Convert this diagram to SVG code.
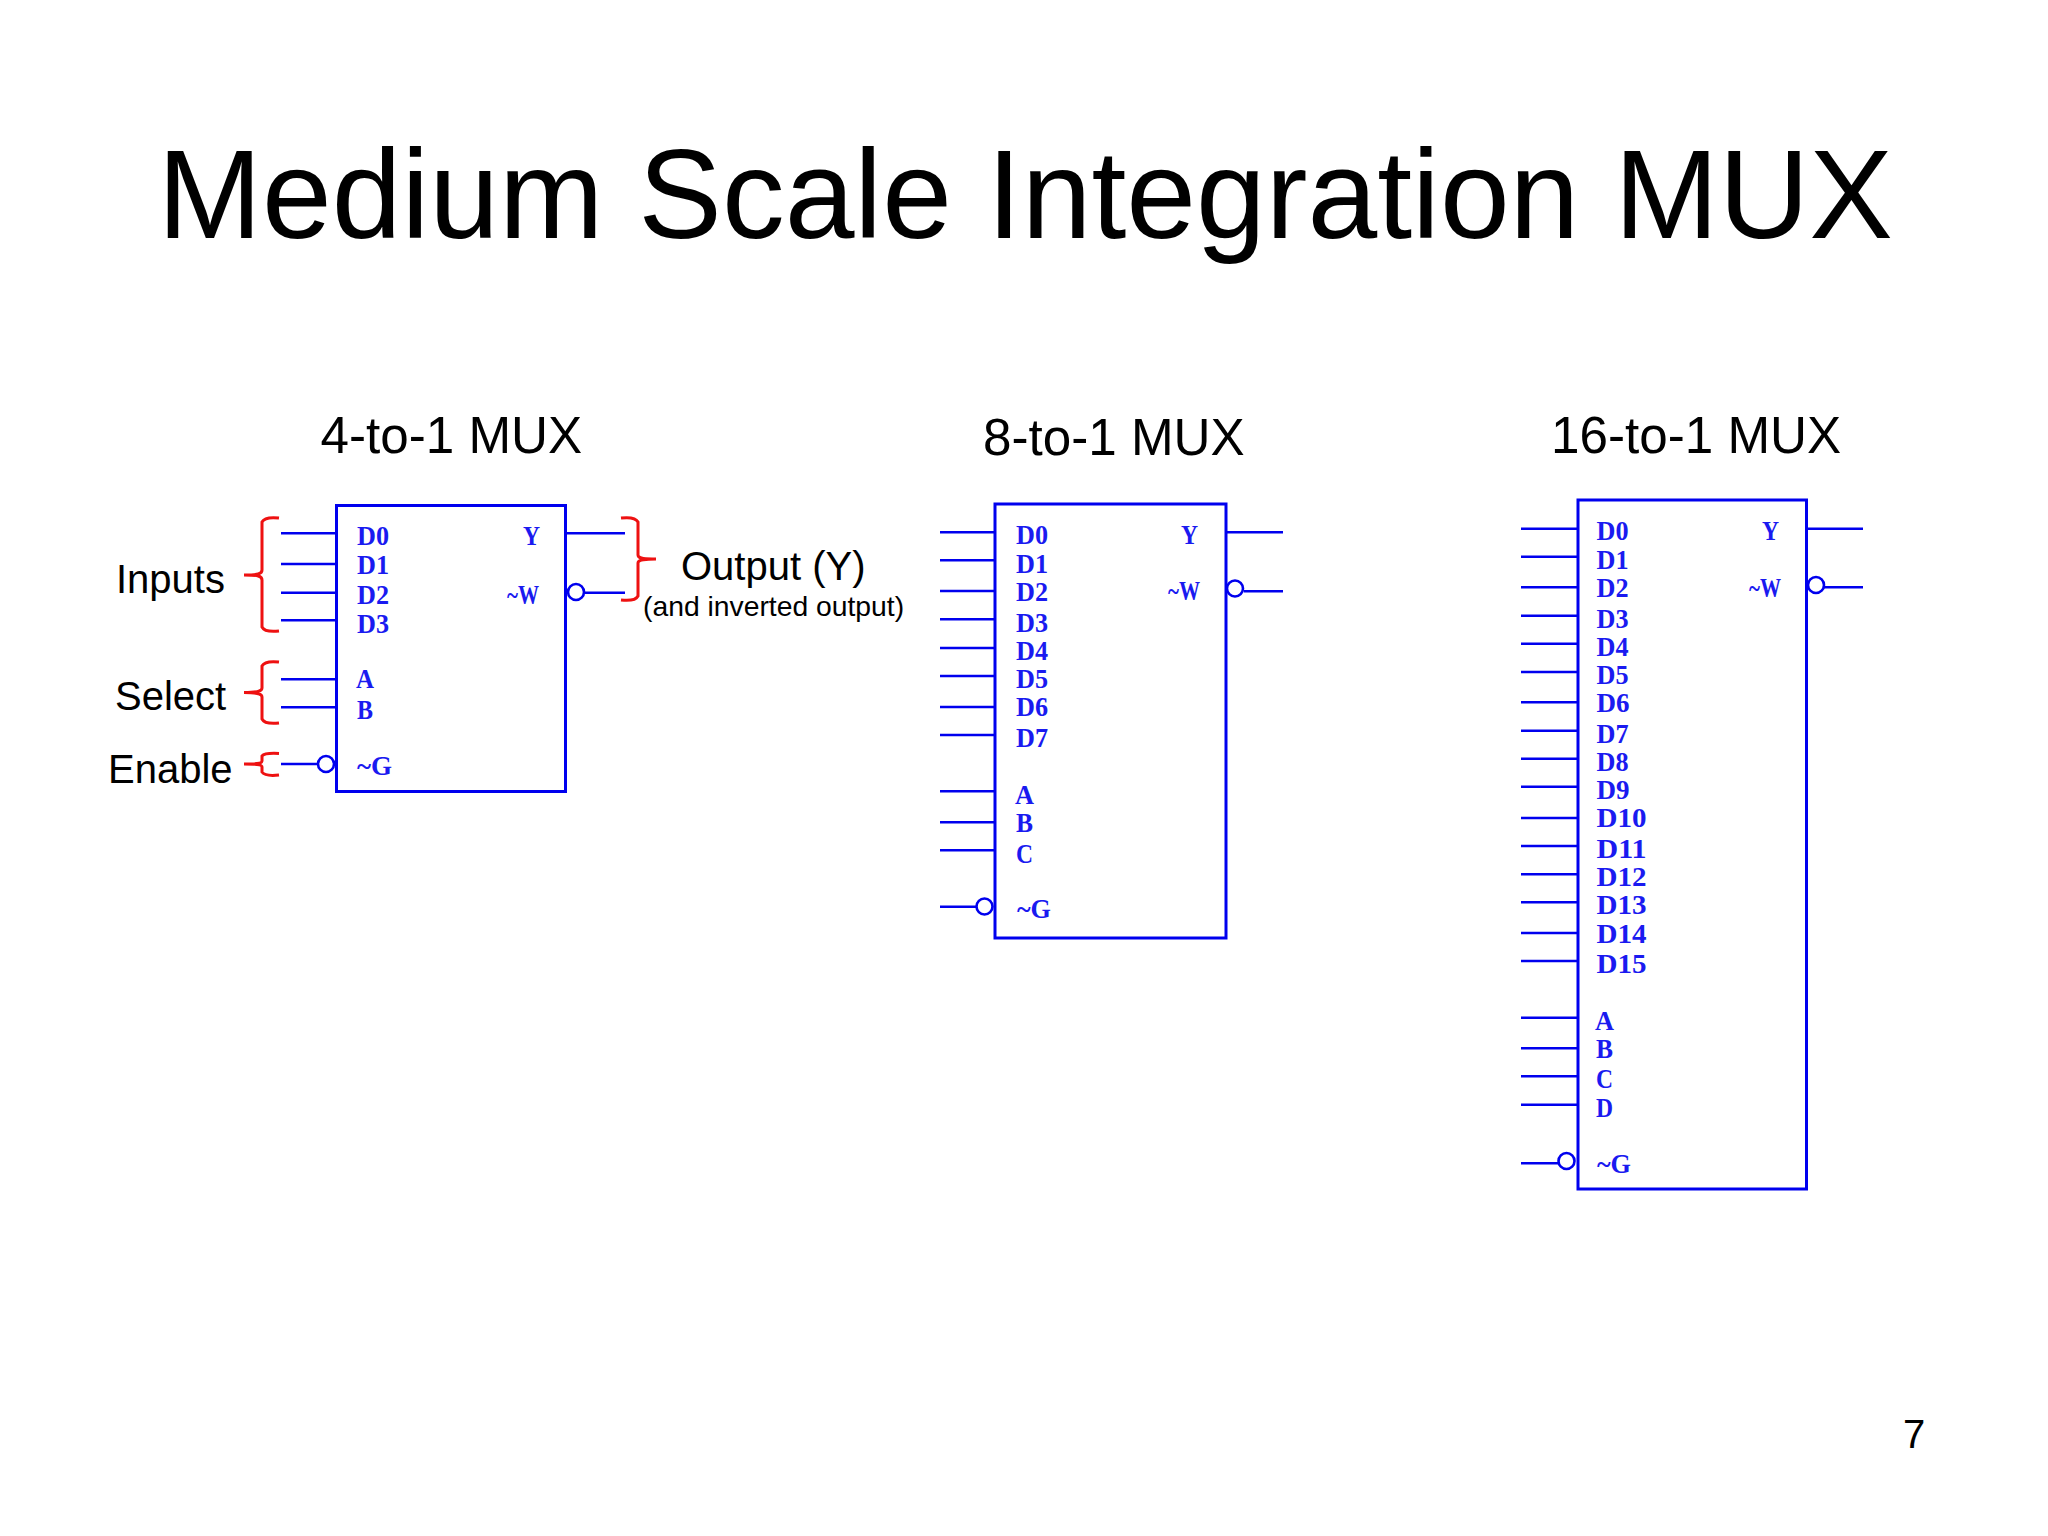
<svg xmlns="http://www.w3.org/2000/svg" width="2048" height="1536" viewBox="0 0 2048 1536">
<style>
text{font-family:"Liberation Sans",Arial,sans-serif;fill:#000}
.p{font-family:"Liberation Serif","Times New Roman",serif;font-size:27px;font-weight:bold;fill:#1a1af0;stroke:none;transform:translateY(1px)}
.b{fill:#fff;stroke:#0000ee;stroke-width:3}
.w{stroke:#0000ee;stroke-width:2.6;fill:none}
.c{fill:#fff;stroke:#0000ee;stroke-width:2.6}
.r{stroke:#ee1111;stroke-width:3;fill:none}
.t{font-size:51.2px}
.l{font-size:40px}
</style>
<rect width="2048" height="1536" fill="#fff"/>
<text id="title" x="157.500" y="238" font-size="125.400">Medium Scale Integration MUX</text>
<text class="t" x="320.500" y="453">4-to-1 MUX</text>
<text class="t" x="983" y="455">8-to-1 MUX</text>
<text class="t" x="1551" y="453">16-to-1 MUX</text>
<text id="page" x="1903" y="1447.500" font-size="40">7</text>
<g id="connectors">
<path class="w" d="M281 533.300H336M281 564H336M281 592.700H336M281 620.300H336M281 679.300H336M281 707.300H336M281 764H318M565 533.300H625M584 592.700H625"/>
<path class="w" d="M940 532.300H995M940 560.300H995M940 591H995M940 619.300H995M940 648H995M940 676H995M940 707H995M940 735H995M940 791.300H995M940 822.300H995M940 850.300H995M940 906.700H976M1226 532.300H1283M1244 591.300H1283"/>
<path class="w" d="M1521 528.700H1578M1521 556.700H1578M1521 587.300H1578M1521 615.700H1578M1521 643.700H1578M1521 672H1578M1521 702.300H1578M1521 730.700H1578M1521 758.700H1578M1521 786.700H1578M1521 818H1578M1521 846H1578M1521 874.300H1578M1521 902.300H1578M1521 933H1578M1521 961H1578M1521 1017.700H1578M1521 1048.300H1578M1521 1076.300H1578M1521 1104.700H1578M1521 1163.300H1558M1806 528.700H1863M1824 587.300H1863"/>
</g>
<g id="mux4">
<rect class="b" x="336.500" y="505.500" width="229" height="286"/>
<circle class="c" cx="326" cy="764" r="8"/><circle class="c" cx="576" cy="592" r="8"/>
<text class="p" x="357" y="544" textLength="32" lengthAdjust="spacingAndGlyphs">D0</text><text class="p" x="357" y="573" textLength="32" lengthAdjust="spacingAndGlyphs">D1</text><text class="p" x="357" y="603" textLength="32" lengthAdjust="spacingAndGlyphs">D2</text><text class="p" x="357" y="632" textLength="32" lengthAdjust="spacingAndGlyphs">D3</text><text class="p" x="356" y="687" textLength="18" lengthAdjust="spacingAndGlyphs">A</text><text class="p" x="357" y="718" textLength="16" lengthAdjust="spacingAndGlyphs">B</text><text class="p" x="357" y="774" textLength="35" lengthAdjust="spacingAndGlyphs">~G</text><text class="p" x="523" y="544" textLength="17" lengthAdjust="spacingAndGlyphs">Y</text><text class="p" x="507" y="603" textLength="32" lengthAdjust="spacingAndGlyphs">~W</text>
</g>
<g id="mux8">
<rect class="b" x="995" y="504" width="231" height="434"/>
<circle class="c" cx="984.500" cy="906.500" r="8"/><circle class="c" cx="1235" cy="588.500" r="8"/>
<text class="p" x="1016" y="543" textLength="32" lengthAdjust="spacingAndGlyphs">D0</text><text class="p" x="1016" y="572" textLength="32" lengthAdjust="spacingAndGlyphs">D1</text><text class="p" x="1016" y="600" textLength="32" lengthAdjust="spacingAndGlyphs">D2</text><text class="p" x="1016" y="631" textLength="32" lengthAdjust="spacingAndGlyphs">D3</text><text class="p" x="1016" y="659" textLength="32" lengthAdjust="spacingAndGlyphs">D4</text><text class="p" x="1016" y="687" textLength="32" lengthAdjust="spacingAndGlyphs">D5</text><text class="p" x="1016" y="715" textLength="32" lengthAdjust="spacingAndGlyphs">D6</text><text class="p" x="1016" y="746" textLength="32" lengthAdjust="spacingAndGlyphs">D7</text><text class="p" x="1015" y="803" textLength="19" lengthAdjust="spacingAndGlyphs">A</text><text class="p" x="1016" y="831" textLength="17" lengthAdjust="spacingAndGlyphs">B</text><text class="p" x="1016" y="862" textLength="17" lengthAdjust="spacingAndGlyphs">C</text><text class="p" x="1017" y="917" textLength="34" lengthAdjust="spacingAndGlyphs">~G</text><text class="p" x="1181" y="543" textLength="17" lengthAdjust="spacingAndGlyphs">Y</text><text class="p" x="1168" y="599" textLength="32" lengthAdjust="spacingAndGlyphs">~W</text>
</g>
<g id="mux16">
<rect class="b" x="1578" y="500" width="228.500" height="689"/>
<circle class="c" cx="1566.500" cy="1161" r="8"/><circle class="c" cx="1816" cy="585" r="8"/>
<text class="p" x="1596.500" y="539" textLength="32" lengthAdjust="spacingAndGlyphs">D0</text><text class="p" x="1596.500" y="568" textLength="32" lengthAdjust="spacingAndGlyphs">D1</text><text class="p" x="1596.500" y="596" textLength="32" lengthAdjust="spacingAndGlyphs">D2</text><text class="p" x="1596.500" y="627" textLength="32" lengthAdjust="spacingAndGlyphs">D3</text><text class="p" x="1596.500" y="655" textLength="32" lengthAdjust="spacingAndGlyphs">D4</text><text class="p" x="1596.500" y="683" textLength="32" lengthAdjust="spacingAndGlyphs">D5</text><text class="p" x="1596.500" y="711" textLength="33" lengthAdjust="spacingAndGlyphs">D6</text><text class="p" x="1596.500" y="742" textLength="32" lengthAdjust="spacingAndGlyphs">D7</text><text class="p" x="1596.500" y="770" textLength="32" lengthAdjust="spacingAndGlyphs">D8</text><text class="p" x="1596.500" y="798" textLength="33" lengthAdjust="spacingAndGlyphs">D9</text><text class="p" x="1596.500" y="826" textLength="50" lengthAdjust="spacingAndGlyphs">D10</text><text class="p" x="1596.500" y="857" textLength="50" lengthAdjust="spacingAndGlyphs">D11</text><text class="p" x="1596.500" y="885" textLength="50" lengthAdjust="spacingAndGlyphs">D12</text><text class="p" x="1596.500" y="913" textLength="50" lengthAdjust="spacingAndGlyphs">D13</text><text class="p" x="1596.500" y="942" textLength="50" lengthAdjust="spacingAndGlyphs">D14</text><text class="p" x="1596.500" y="972" textLength="50" lengthAdjust="spacingAndGlyphs">D15</text><text class="p" x="1595" y="1029" textLength="19" lengthAdjust="spacingAndGlyphs">A</text><text class="p" x="1596" y="1057" textLength="17" lengthAdjust="spacingAndGlyphs">B</text><text class="p" x="1596" y="1087" textLength="17" lengthAdjust="spacingAndGlyphs">C</text><text class="p" x="1596" y="1116" textLength="17" lengthAdjust="spacingAndGlyphs">D</text><text class="p" x="1597" y="1172" textLength="34" lengthAdjust="spacingAndGlyphs">~G</text><text class="p" x="1762" y="539" textLength="17" lengthAdjust="spacingAndGlyphs">Y</text><text class="p" x="1749" y="596" textLength="32" lengthAdjust="spacingAndGlyphs">~W</text>
</g>
<g id="brace-inputs"><path class="r" d="M279 518C270 517 264 518 262 522V570C262 574 258 575 244 575C258 575 262 576 262 580V627C264 631 270 632 279 631"/><text class="l" x="116" y="593">Inputs</text></g>
<g id="brace-select"><path class="r" d="M279 662C270 661 264 662 262 666V688C262 691 258 692.500 244 692.500C258 692.500 262 694 262 697V719C264 723 270 724 279 723"/><text class="l" x="115" y="710">Select</text></g>
<g id="brace-enable"><path class="r" d="M279 753.500C270 753 264 753.500 262 756V761C262 763 258 764 244 764C258 764 262 765 262 767V772C264 775 270 776 279 775"/><text class="l" x="108" y="783">Enable</text></g>
<g id="brace-output"><path class="r" d="M621 518C630 517 636 518 638 522V555C638 558 642 559 656 559C642 559 638 560 638 563V596C636 600 630 601 621 600"/><text class="l" x="681" y="579.500">Output (Y)</text><text x="643" y="616" font-size="28.300">(and inverted output)</text></g>
</svg>
